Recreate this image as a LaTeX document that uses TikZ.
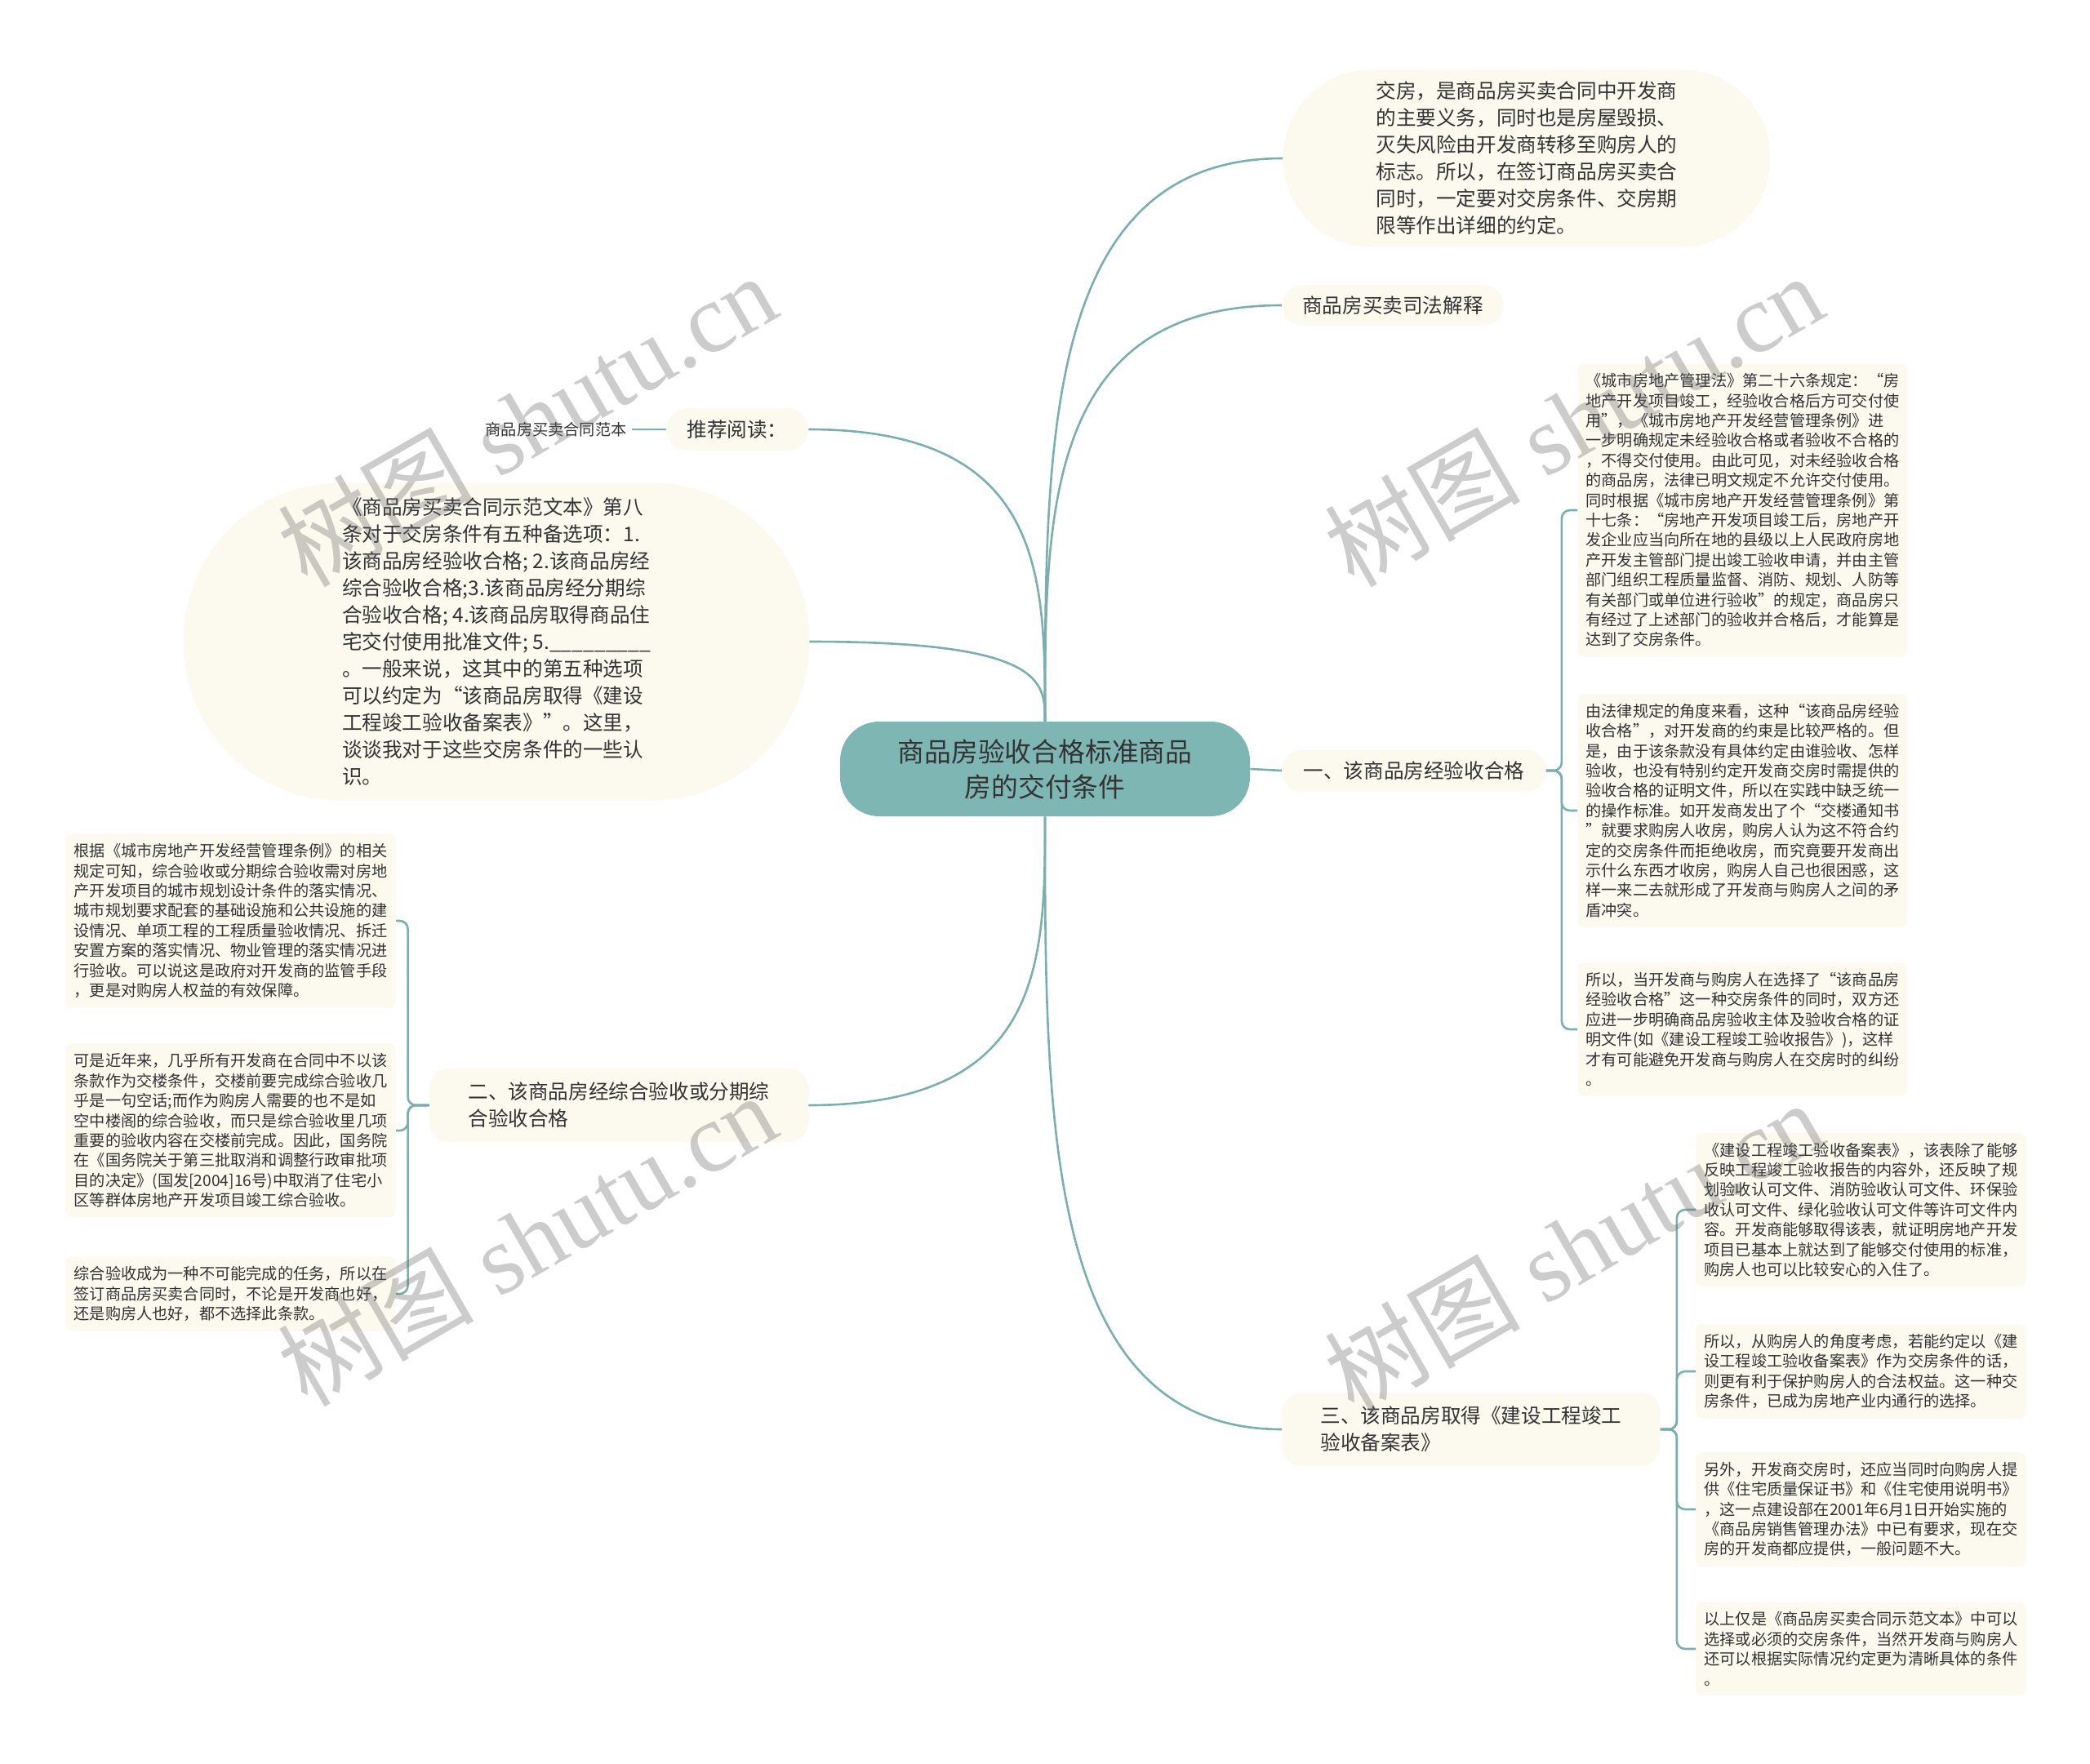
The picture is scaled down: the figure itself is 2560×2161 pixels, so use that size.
\documentclass[tikz,border=0pt]{standalone}
\usepackage{fontspec}
\setmainfont{Noto Sans CJK SC}
\newfontfamily\wmserif{Liberation Serif}
\usetikzlibrary{calc}
\definecolor{teal0}{HTML}{7EB6B4}
\definecolor{linec}{HTML}{7AAFAE}
\definecolor{cream}{HTML}{FCF9EF}
\definecolor{textc}{HTML}{333333}
\begin{document}
\begin{tikzpicture}[x=0.5pt,y=-0.5pt,
 mainnode/.style={fill=teal0, text=textc, rounded corners=24pt, minimum width=251pt, minimum height=58pt, align=center, inner sep=0pt, font=\fontsize{16.4pt}{21.5pt}\selectfont},
 bignode/.style={fill=cream, text=textc, align=left, inner sep=0pt, font=\fontsize{12.3pt}{16.5pt}\selectfont},
 smallnode/.style={fill=cream, text=textc, align=left, rounded corners=4pt, inner xsep=5pt, inner ysep=6pt, font=\fontsize{9.6pt}{12.2pt}\selectfont},
 link/.style={draw=linec, line width=1.3pt},
 wm/.style={text=black!60, opacity=0.33, rotate=30, inner sep=0pt, font=\fontsize{60pt}{60pt}\selectfont}]

\fill[white] (0,0) rectangle (2560,2161);
\useasboundingbox (0,0) rectangle (2560,2161);

% central
\node[mainnode] (C) at (1280,942) {商品房验收合格标准商品\\房的交付条件};

% right side
\node[bignode, rounded corners=54pt, minimum width=298.5pt, minimum height=108.5pt] (R1) at (1870,194) {交房，是商品房买卖合同中开发商\\的主要义务，同时也是房屋毁损、\\灭失风险由开发商转移至购房人的\\标志。所以，在签订商品房买卖合\\同时，一定要对交房条件、交房期\\限等作出详细的约定。\hspace*{8pt}};
\node[bignode, rounded corners=12pt, minimum width=135.5pt, minimum height=24.5pt] (R2) at (1706,374) {商品房买卖司法解释};
\node[bignode, rounded corners=12pt, minimum width=161.5pt, minimum height=25.5pt] (R3) at (1732,944) {一、该商品房经验收合格};
\node[bignode, rounded corners=12pt, minimum width=231.5pt, minimum height=45pt] (R4) at (1802,1751) {三、该商品房取得《建设工程竣工\\验收备案表》};

\node[smallnode, anchor=west] (R3a) at (1932,625) {《城市房地产管理法》第二十六条规定：“房\\地产开发项目竣工，经验收合格后方可交付使\\用”，《城市房地产开发经营管理条例》进\\一步明确规定未经验收合格或者验收不合格的\\，不得交付使用。由此可见，对未经验收合格\\的商品房，法律已明文规定不允许交付使用。\\同时根据《城市房地产开发经营管理条例》第\\十七条：“房地产开发项目竣工后，房地产开\\发企业应当向所在地的县级以上人民政府房地\\产开发主管部门提出竣工验收申请，并由主管\\部门组织工程质量监督、消防、规划、人防等\\有关部门或单位进行验收”的规定，商品房只\\有经过了上述部门的验收并合格后，才能算是\\达到了交房条件。};
\node[smallnode, anchor=west] (R3b) at (1932,993) {由法律规定的角度来看，这种“该商品房经验\\收合格”，对开发商的约束是比较严格的。但\\是，由于该条款没有具体约定由谁验收、怎样\\验收，也没有特别约定开发商交房时需提供的\\验收合格的证明文件，所以在实践中缺乏统一\\的操作标准。如开发商发出了个“交楼通知书\\”就要求购房人收房，购房人认为这不符合约\\定的交房条件而拒绝收房，而究竟要开发商出\\示什么东西才收房，购房人自己也很困惑，这\\样一来二去就形成了开发商与购房人之间的矛\\盾冲突。};
\node[smallnode, anchor=west] (R3c) at (1932,1261) {所以，当开发商与购房人在选择了“该商品房\\经验收合格”这一种交房条件的同时，双方还\\应进一步明确商品房验收主体及验收合格的证\\明文件(如《建设工程竣工验收报告》)，这样\\才有可能避免开发商与购房人在交房时的纠纷\\。};

\node[smallnode, anchor=west] (R4a) at (2077,1482) {《建设工程竣工验收备案表》，该表除了能够\\反映工程竣工验收报告的内容外，还反映了规\\划验收认可文件、消防验收认可文件、环保验\\收认可文件、绿化验收认可文件等许可文件内\\容。开发商能够取得该表，就证明房地产开发\\项目已基本上就达到了能够交付使用的标准，\\购房人也可以比较安心的入住了。};
\node[smallnode, anchor=west] (R4b) at (2077,1680) {所以，从购房人的角度考虑，若能约定以《建\\设工程竣工验收备案表》作为交房条件的话，\\则更有利于保护购房人的合法权益。这一种交\\房条件，已成为房地产业内通行的选择。};
\node[smallnode, anchor=west] (R4c) at (2077,1849) {另外，开发商交房时，还应当同时向购房人提\\供《住宅质量保证书》和《住宅使用说明书》\\，这一点建设部在2001年6月1日开始实施的\\《商品房销售管理办法》中已有要求，现在交\\房的开发商都应提供，一般问题不大。};
\node[smallnode, anchor=west] (R4d) at (2077,2020) {以上仅是《商品房买卖合同示范文本》中可以\\选择或必须的交房条件，当然开发商与购房人\\还可以根据实际情况约定更为清晰具体的条件\\。};

% left side
\node[bignode, rounded corners=13pt, minimum width=87pt, minimum height=26pt] (L1) at (903,526) {推荐阅读：};
\node[text=textc, font=\fontsize{9.6pt}{12pt}\selectfont, inner sep=3pt] (L0) at (681,526) {商品房买卖合同范本};
\node[bignode, rounded corners=96pt, minimum width=383pt, minimum height=194.5pt] (L2) at (608,786) {《商品房买卖合同示范文本》第八\\条对于交房条件有五种备选项：1.\\该商品房经验收合格; 2.该商品房经\\综合验收合格;3.该商品房经分期综\\合验收合格; 4.该商品房取得商品住\\宅交付使用批准文件; 5.\_\_\_\_\_\_\_\_\_\\。一般来说，这其中的第五种选项\\可以约定为“该商品房取得《建设\\工程竣工验收备案表》”。这里，\\谈谈我对于这些交房条件的一些认\\识。};
\node[bignode, rounded corners=12pt, minimum width=232pt, minimum height=45pt] (L3) at (758,1354) {二、该商品房经综合验收或分期综\\合验收合格};

\node[smallnode, anchor=east] (L3a) at (485,1128) {根据《城市房地产开发经营管理条例》的相关\\规定可知，综合验收或分期综合验收需对房地\\产开发项目的城市规划设计条件的落实情况、\\城市规划要求配套的基础设施和公共设施的建\\设情况、单项工程的工程质量验收情况、拆迁\\安置方案的落实情况、物业管理的落实情况进\\行验收。可以说这是政府对开发商的监管手段\\，更是对购房人权益的有效保障。};
\node[smallnode, anchor=east] (L3b) at (485,1385) {可是近年来，几乎所有开发商在合同中不以该\\条款作为交楼条件，交楼前要完成综合验收几\\乎是一句空话;而作为购房人需要的也不是如\\空中楼阁的综合验收，而只是综合验收里几项\\重要的验收内容在交楼前完成。因此，国务院\\在《国务院关于第三批取消和调整行政审批项\\目的决定》(国发[2004]16号)中取消了住宅小\\区等群体房地产开发项目竣工综合验收。};
\node[smallnode, anchor=east] (L3c) at (485,1585) {综合验收成为一种不可能完成的任务，所以在\\签订商品房买卖合同时，不论是开发商也好，\\还是购房人也好，都不选择此条款。};

% connectors from centre
\draw[link] (C.north) .. controls ($(C.north)!0.5!(C.north |- R1.west)$) and (C.north |- R1.west) .. (R1.west);
\draw[link] (C.north) .. controls ($(C.north)!0.5!(C.north |- R2.west)$) and (C.north |- R2.west) .. (R2.west);
\draw[link] (C.north) .. controls ($(C.north)!0.5!(C.north |- L1.east)$) and (C.north |- L1.east) .. (L1.east);
\draw[link] (C.north) .. controls ($(C.north)!0.5!(C.north |- L2.east)$) and (C.north |- L2.east) .. (L2.east);
\draw[link] (C.east) -- (R3.west);
\draw[link] (C.south) .. controls ($(C.south)!0.5!(C.south |- R4.west)$) and (C.south |- R4.west) .. (R4.west);
\draw[link] (C.south) .. controls ($(C.south)!0.5!(C.south |- L3.east)$) and (C.south |- L3.east) .. (L3.east);
\draw[link] (L0.east) -- (L1.west);

% brackets
\foreach \n in {R3a,R3b,R3c} \draw[link, rounded corners=5pt] (R3.east) -- ++(19,0) |- (\n.west);
\foreach \n in {R4a,R4b,R4c,R4d} \draw[link, rounded corners=5pt] (R4.east) -- ++(20,0) |- (\n.west);
\foreach \n in {L3a,L3b,L3c} \draw[link, rounded corners=5pt] (L3.west) -- ++(-26,0) |- (\n.east);

% watermarks
\node[wm] (W1) at (645,514) {树图\hspace{0.25em}{\wmserif shutu.cn}};
\node[wm] (W2) at (1927,514) {树图\hspace{0.25em}{\wmserif shutu.cn}};
\node[wm] (W3) at (645,1518) {树图\hspace{0.25em}{\wmserif shutu.cn}};
\node[wm] (W4) at (1927,1527) {树图\hspace{0.25em}{\wmserif shutu.cn}};
\end{tikzpicture}
\end{document}
